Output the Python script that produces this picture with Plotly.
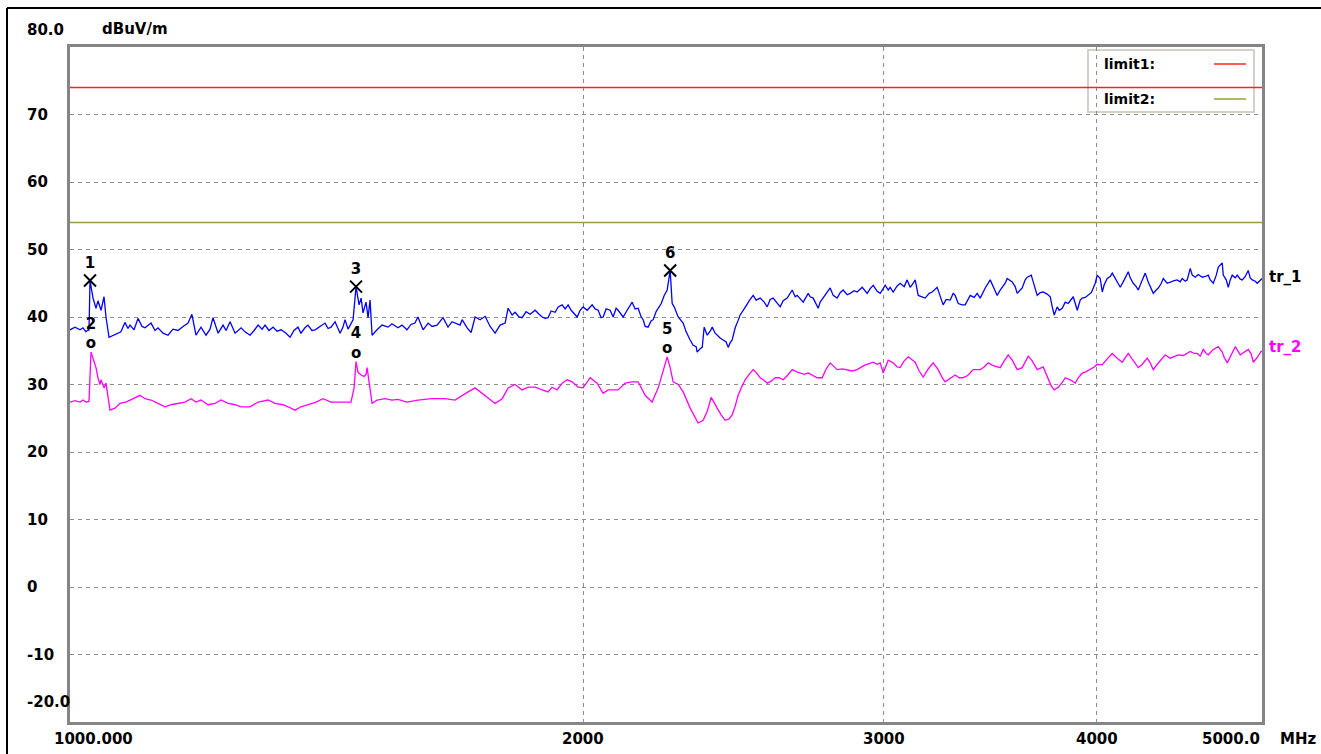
import math
import plotly.graph_objects as go

# ---------------- data ----------------
tr1_freq = [1000.0, 1006.8, 1013.6, 1017.7, 1021.8, 1024.6, 1026.0, 1027.4, 1031.6, 1035.7,
            1038.5, 1042.8, 1047.0, 1049.8, 1054.1, 1059.8, 1065.5, 1071.2, 1077.0, 1081.4,
            1084.4, 1090.3, 1096.2, 1102.1, 1106.6, 1115.6, 1121.7, 1126.2, 1133.8, 1141.5,
            1149.2, 1157.0, 1164.9, 1172.8, 1178.9, 1185.4, 1193.5, 1201.6, 1208.1, 1213.0,
            1221.4, 1229.6, 1234.5, 1241.3, 1249.7, 1259.9, 1266.6, 1275.2, 1282.2, 1289.1,
            1296.1, 1301.3, 1308.3, 1315.4, 1322.5, 1329.8, 1338.7, 1346.0, 1353.1, 1360.4,
            1365.9, 1373.3, 1378.9, 1386.3, 1392.2, 1401.6, 1411.1, 1416.9, 1422.6, 1430.3,
            1436.1, 1440.0, 1445.7, 1449.7, 1455.6, 1459.5, 1465.5, 1471.4, 1477.4, 1481.5,
            1485.4, 1491.4, 1495.5, 1499.5, 1503.6, 1513.7, 1524.0, 1536.4, 1544.5, 1557.1,
            1565.6, 1576.1, 1584.7, 1593.2, 1599.7, 1610.8, 1621.8, 1630.5, 1641.5, 1654.8,
            1665.9, 1675.0, 1681.8, 1693.3, 1698.0, 1709.5, 1718.7, 1728.0, 1739.7, 1751.5,
            1763.4, 1775.3, 1787.3, 1799.5, 1806.8, 1816.6, 1823.9, 1833.8, 1841.3, 1851.2,
            1861.3, 1873.9, 1884.0, 1891.8, 1899.3, 1907.0, 1914.7, 1925.2, 1933.1, 1943.5,
            1951.3, 1959.3, 1967.3, 1975.2, 1983.3, 1991.3, 1999.4, 2010.2, 2023.9, 2032.0,
            2040.2, 2048.5, 2054.2, 2062.5, 2073.6, 2082.0, 2090.5, 2096.2, 2110.3, 2121.8,
            2136.1, 2144.9, 2153.5, 2162.3, 2168.2, 2174.0, 2182.7, 2191.6, 2197.6, 2206.5,
            2212.6, 2221.6, 2230.7, 2239.6, 2248.7, 2254.8, 2260.9, 2273.2, 2288.5, 2297.7,
            2310.2, 2319.6, 2329.0, 2332.1, 2341.6, 2348.1, 2354.4, 2363.9, 2373.5, 2380.0,
            2389.6, 2396.0, 2405.7, 2415.5, 2425.2, 2431.9, 2438.4, 2445.0, 2455.0, 2464.9,
            2471.5, 2484.9, 2494.9, 2505.1, 2515.4, 2525.5, 2539.2, 2553.2, 2563.4, 2573.8,
            2584.2, 2598.3, 2608.8, 2619.4, 2633.5, 2651.5, 2662.2, 2669.3, 2680.2, 2691.2,
            2709.4, 2716.6, 2727.7, 2746.2, 2753.5, 2764.7, 2775.8, 2791.0, 2802.3, 2817.4,
            2828.9, 2840.2, 2855.7, 2867.3, 2882.9, 2894.5, 2914.3, 2926.0, 2934.0, 2945.9,
            2957.9, 2973.9, 2986.0, 2998.0, 3006.3, 3018.4, 3026.5, 3038.7, 3055.2, 3067.6,
            3084.4, 3096.7, 3109.4, 3122.1, 3130.4, 3143.3, 3160.1, 3173.0, 3190.1, 3203.0,
            3224.7, 3237.9, 3250.9, 3264.2, 3281.9, 3295.3, 3304.2, 3317.7, 3335.7, 3349.0,
            3362.7, 3371.8, 3390.0, 3403.8, 3417.7, 3431.5, 3440.9, 3464.1, 3478.0, 3496.9,
            3511.2, 3520.8, 3535.0, 3544.4, 3568.7, 3583.0, 3592.7, 3607.4, 3617.1, 3631.9,
            3641.7, 3661.5, 3676.3, 3691.1, 3706.1, 3721.0, 3741.2, 3756.5, 3766.8, 3776.9,
            3792.1, 3802.5, 3818.1, 3833.4, 3849.0, 3864.6, 3875.1, 3885.6, 3896.1, 3911.9,
            3922.3, 3938.4, 3954.3, 3970.5, 3981.4, 3991.9, 4002.5, 4018.9, 4030.0, 4040.8,
            4057.0, 4073.6, 4084.8, 4101.2, 4117.9, 4129.0, 4151.3, 4174.0, 4185.2, 4202.1,
            4219.0, 4230.6, 4253.7, 4270.8, 4288.0, 4299.6, 4317.3, 4334.6, 4346.6, 4364.4,
            4375.9, 4399.4, 4417.4, 4441.3, 4459.4, 4477.5, 4489.4, 4507.8, 4519.9, 4538.3,
            4550.8, 4569.1, 4587.4, 4612.6, 4631.2, 4650.2, 4662.5, 4681.5, 4700.6, 4713.4,
            4738.7, 4745.1, 4764.2, 4777.4, 4790.2, 4802.9, 4822.8, 4835.6, 4855.2, 4868.6,
            4888.2, 4907.8, 4921.2, 4934.8, 4954.7, 4967.8, 4981.6, 5000.0]
tr1_level = [38.1, 38.5, 38.1, 38.4, 37.8, 38.1, 38.0, 45.4, 42.8, 41.3,
             42.4, 41.0, 43.0, 40.0, 37.0, 37.3, 37.6, 37.8, 39.2, 38.3,
             38.8, 38.1, 39.8, 38.6, 38.4, 39.1, 38.0, 38.4, 37.6, 37.3,
             38.2, 38.0, 38.6, 39.1, 40.4, 37.3, 38.5, 37.3, 38.2, 39.9,
             37.6, 38.8, 38.0, 39.3, 37.6, 38.4, 37.8, 37.3, 38.0, 38.8,
             38.2, 38.8, 38.0, 38.5, 37.9, 38.1, 37.6, 37.0, 38.0, 38.5,
             37.6, 38.4, 38.8, 38.0, 38.1, 38.6, 39.1, 38.3, 38.5, 39.3,
             38.2, 37.6, 38.5, 39.6, 38.2, 38.8, 39.6, 44.5, 41.8, 42.8,
             40.6, 42.2, 39.9, 42.5, 37.3, 38.1, 38.8, 38.5, 39.0, 38.4,
             38.8, 38.1, 38.9, 39.1, 40.0, 38.1, 39.1, 38.6, 38.8, 39.9,
             38.5, 39.3, 39.1, 38.8, 39.6, 38.4, 37.7, 40.0, 39.6, 40.1,
             38.6, 37.6, 38.8, 39.1, 41.3, 40.3, 40.7, 40.0, 39.9, 40.8,
             40.4, 41.0, 40.4, 40.0, 39.8, 39.9, 40.9, 40.7, 41.5, 41.8,
             41.2, 41.8, 41.0, 40.5, 40.0, 41.0, 41.5, 41.0, 41.8, 41.2,
             41.0, 39.9, 40.0, 41.2, 41.0, 40.0, 41.3, 41.0, 40.0, 41.0,
             42.2, 41.2, 41.3, 40.0, 39.6, 38.6, 38.5, 39.4, 39.6, 40.8,
             41.3, 42.0, 43.2, 44.0, 46.9, 42.0, 41.5, 40.0, 39.1, 37.8,
             36.6, 35.8, 35.6, 34.8, 35.3, 35.5, 38.5, 37.3, 37.9, 38.5,
             37.6, 37.3, 36.9, 36.6, 36.3, 35.5, 36.2, 36.6, 38.4, 39.5,
             40.3, 41.2, 42.0, 42.6, 43.2, 42.5, 42.8, 42.2, 41.5, 42.6,
             42.8, 42.0, 41.5, 42.4, 42.8, 44.0, 43.0, 43.2, 42.7, 42.2,
             43.5, 43.0, 42.8, 41.3, 42.2, 42.8, 43.5, 44.3, 43.2, 42.8,
             43.6, 44.0, 43.3, 43.5, 43.9, 43.7, 44.4, 43.8, 43.5, 44.2,
             44.7, 43.8, 43.5, 44.2, 44.7, 44.0, 44.4, 43.7, 44.6, 45.0,
             44.5, 45.5, 44.4, 45.0, 45.5, 43.2, 43.0, 42.8, 43.5, 43.7,
             44.4, 43.0, 41.8, 42.6, 42.5, 43.5, 43.2, 42.0, 41.8, 41.8,
             42.8, 43.2, 42.9, 43.5, 42.8, 43.8, 44.3, 45.5, 44.4, 43.2,
             44.0, 44.4, 45.0, 45.7, 45.2, 44.5, 43.5, 44.0, 44.3, 45.5,
             45.9, 46.2, 44.5, 43.2, 43.6, 43.7, 43.4, 43.0, 41.5, 40.3,
             41.5, 41.0, 41.3, 42.2, 42.0, 42.5, 43.0, 42.0, 41.0, 42.5,
             42.8, 42.9, 43.2, 43.6, 44.3, 45.0, 46.2, 45.7, 43.7, 44.8,
             45.7, 46.0, 46.5, 45.7, 45.0, 44.4, 45.5, 46.7, 45.8, 45.0,
             44.5, 44.0, 45.5, 46.5, 45.2, 44.5, 43.5, 44.0, 44.3, 45.0,
             45.7, 45.0, 45.2, 45.4, 45.5, 45.2, 45.7, 45.3, 45.5, 47.2,
             46.2, 45.9, 46.3, 45.9, 46.0, 46.2, 45.5, 45.0, 46.2, 47.4,
             48.0, 46.2, 45.5, 44.4, 45.5, 46.2, 45.8, 46.2, 45.6, 45.5,
             46.0, 46.9, 45.8, 45.5, 45.3, 45.0, 45.3, 45.7]

tr2_freq = [1000.0, 1006.8, 1013.6, 1017.7, 1021.8, 1026.0, 1028.8, 1031.6, 1035.7, 1038.5,
            1041.3, 1042.8, 1047.0, 1049.8, 1052.6, 1055.5, 1062.6, 1069.8, 1078.5, 1088.9,
            1099.1, 1106.6, 1115.6, 1126.2, 1136.9, 1146.1, 1157.0, 1168.0, 1177.6, 1185.4,
            1193.5, 1204.9, 1216.3, 1226.3, 1237.9, 1249.7, 1259.9, 1275.2, 1289.1, 1306.6,
            1319.0, 1333.3, 1342.3, 1355.1, 1365.9, 1378.9, 1394.1, 1407.3, 1422.6, 1442.0,
            1461.4, 1467.5, 1471.4, 1475.4, 1481.5, 1487.4, 1491.4, 1493.5, 1497.5, 1503.6,
            1513.7, 1530.2, 1544.5, 1557.1, 1576.1, 1599.7, 1630.5, 1659.4, 1681.8, 1698.0,
            1711.8, 1728.0, 1744.4, 1758.6, 1775.3, 1792.3, 1806.8, 1823.9, 1841.3, 1856.3,
            1873.9, 1891.8, 1907.0, 1917.3, 1930.3, 1943.5, 1956.7, 1969.9, 1986.0, 1999.4,
            2018.4, 2037.5, 2054.2, 2068.1, 2096.2, 2116.0, 2136.1, 2153.5, 2174.0, 2194.5,
            2212.6, 2224.5, 2233.5, 2239.6, 2248.7, 2257.8, 2273.2, 2288.5, 2310.2, 2322.7,
            2335.1, 2351.2, 2363.9, 2376.9, 2386.5, 2396.0, 2408.9, 2422.0, 2435.1, 2445.0,
            2455.0, 2464.9, 2478.3, 2488.3, 2501.7, 2515.4, 2525.5, 2539.2, 2553.2, 2563.4,
            2577.3, 2591.3, 2605.2, 2619.4, 2633.5, 2651.5, 2665.7, 2680.2, 2694.8, 2709.4,
            2724.1, 2742.4, 2760.9, 2775.8, 2791.0, 2806.1, 2817.4, 2836.6, 2855.7, 2875.2,
            2894.5, 2910.5, 2926.0, 2942.0, 2957.9, 2973.9, 2986.0, 2998.0, 3010.1, 3018.4,
            3038.7, 3055.2, 3067.6, 3084.4, 3101.2, 3113.8, 3130.4, 3147.4, 3164.4, 3186.0,
            3207.4, 3229.1, 3246.8, 3259.8, 3277.3, 3290.6, 3304.2, 3322.1, 3335.7, 3353.6,
            3362.7, 3385.5, 3417.7, 3436.2, 3454.7, 3478.0, 3496.9, 3511.2, 3530.3, 3549.5,
            3568.7, 3592.7, 3617.1, 3631.9, 3646.7, 3666.2, 3691.1, 3721.0, 3745.9, 3761.4,
            3776.9, 3797.5, 3818.1, 3833.4, 3859.4, 3885.6, 3901.5, 3922.3, 3943.5, 3965.0,
            3986.4, 4002.5, 4030.0, 4057.0, 4084.8, 4112.2, 4140.2, 4174.0, 4202.1, 4230.6,
            4253.7, 4282.2, 4299.6, 4317.3, 4340.4, 4364.4, 4387.6, 4417.4, 4441.3, 4465.5,
            4495.6, 4519.9, 4538.3, 4562.7, 4581.3, 4599.8, 4618.9, 4637.4, 4650.2, 4681.5,
            4713.4, 4738.7, 4751.5, 4770.8, 4796.8, 4822.8, 4855.2, 4881.4, 4907.8, 4927.7,
            4941.4, 4967.8, 4993.3, 5000.0]
tr2_level = [27.4, 27.6, 27.4, 27.7, 27.4, 27.5, 34.8, 33.9, 32.5, 31.0,
             30.0, 30.7, 29.5, 30.2, 28.5, 26.2, 26.5, 27.2, 27.4, 27.9,
             28.4, 27.9, 27.7, 27.2, 26.7, 27.0, 27.2, 27.4, 27.9, 27.4,
             27.7, 27.0, 27.2, 27.7, 27.2, 27.0, 26.7, 26.7, 27.4, 27.7,
             27.2, 27.0, 26.7, 26.2, 26.7, 27.0, 27.4, 27.9, 27.4, 27.4,
             27.4, 29.5, 33.4, 31.8, 31.4, 31.2, 31.5, 32.5, 30.2, 27.2,
             27.7, 27.9, 27.7, 27.8, 27.4, 27.7, 27.9, 27.9, 27.7, 28.4,
             28.9, 29.5, 28.7, 27.9, 27.2, 27.9, 29.5, 30.0, 29.2, 29.6,
             29.6, 29.2, 28.9, 29.6, 29.2, 30.2, 30.7, 30.4, 29.6, 29.5,
             31.0, 30.2, 28.7, 29.2, 29.2, 30.2, 30.4, 30.4, 28.4, 27.4,
             29.5, 31.5, 33.3, 34.1, 32.5, 30.4, 30.0, 28.9, 26.5, 25.3,
             24.3, 24.7, 26.0, 28.1, 27.2, 26.5, 25.5, 24.7, 24.9, 25.5,
             26.8, 28.4, 29.8, 30.7, 31.5, 32.2, 31.8, 31.0, 30.6, 30.2,
             30.5, 31.0, 31.0, 30.7, 31.3, 32.2, 31.9, 31.7, 31.5, 31.7,
             31.4, 31.0, 31.0, 32.3, 33.2, 32.6, 32.2, 32.3, 32.2, 32.0,
             32.2, 32.6, 32.9, 33.1, 33.3, 33.0, 33.2, 31.7, 33.0, 33.6,
             33.2, 32.6, 32.5, 33.5, 34.1, 33.8, 33.3, 32.0, 31.1, 32.3,
             33.2, 32.2, 31.0, 30.4, 30.8, 31.1, 31.4, 31.0, 31.0, 31.2,
             31.4, 32.2, 32.2, 32.6, 33.2, 32.8, 32.6, 32.5, 33.5, 34.4,
             33.6, 32.2, 32.5, 33.3, 34.2, 33.5, 32.2, 32.6, 31.0, 29.8,
             29.2, 29.6, 30.3, 31.0, 30.7, 30.2, 31.0, 31.7, 31.9, 32.2,
             32.6, 33.0, 32.9, 33.8, 34.6, 33.9, 33.3, 34.6, 33.5, 32.5,
             33.0, 33.9, 33.2, 32.2, 33.0, 33.8, 34.4, 33.9, 34.2, 34.4,
             34.3, 34.6, 34.9, 34.6, 34.6, 34.2, 35.2, 34.6, 34.4, 35.2,
             35.6, 34.8, 34.0, 33.2, 34.5, 35.6, 34.4, 34.8, 35.2, 34.5,
             33.3, 34.0, 34.9, 34.9]

limit_names = ["limit1", "limit2"]
limit_levels = [74.0, 54.0]
limit_span = [1000.0, 5000.0]

peak_labels = ["1", "3", "6"]
peak_freq = [1027.4, 1471.4, 2248.7]
peak_level = [45.4, 44.5, 46.9]

avg_labels = ["2", "4", "5"]
avg_freq = [1028.8, 1471.4, 2239.6]
avg_level = [34.8, 33.4, 34.1]

x_tick_vals = [1000, 2000, 3000, 4000, 5000]
x_tick_text = ["1000.000", "2000", "3000", "4000", "5000.0"]
y_tick_vals = [80, 70, 60, 50, 40, 30, 20, 10, 0, -10, -20]
y_tick_text = ["80.0", "70", "60", "50", "40", "30", "20", "10", "0", "-10", "-20.0"]

# ---------------- styles ----------------
W, H = 1321, 754
L, R, T, B = 70, 59, 47, 32
PW, PH = W - L - R, H - T - B
FONT = "DejaVu Sans"
FS = 15
LIMIT_COLORS = ["#ff2020", "#9c9c3a"]
TR1_COLOR = "#0000ff"
TR2_COLOR = "#ff00ff"
GRID = "#8c8c8c"
FRAME = "#858585"


def px_x(p):
    return (p - L) / PW


def px_y(p):
    return (H - B - p) / PH


def bold(size, color="black"):
    return dict(family=FONT, size=size, color=color, weight="bold")


fig = go.Figure()

for name, lvl, col in zip(limit_names, limit_levels, LIMIT_COLORS):
    fig.add_trace(go.Scatter(x=limit_span, y=[lvl, lvl], mode="lines",
                             line=dict(color=col, width=1.5), name=name,
                             hoverinfo="skip"))

fig.add_trace(go.Scatter(x=tr1_freq, y=tr1_level, mode="lines",
                         line=dict(color=TR1_COLOR, width=1.3), name="tr_1"))
fig.add_trace(go.Scatter(x=tr2_freq, y=tr2_level, mode="lines",
                         line=dict(color=TR2_COLOR, width=1.3), name="tr_2"))

fig.add_trace(go.Scatter(x=peak_freq, y=peak_level, mode="markers+text",
                         text=peak_labels, textposition="top center",
                         textfont=bold(FS),
                         marker=dict(symbol="x-thin-open", size=12, color="black",
                                     line=dict(color="black", width=2)),
                         name="peaks"))
fig.add_trace(go.Scatter(x=avg_freq, y=avg_level, mode="text",
                         text=[f"{t}<br>o" for t in avg_labels],
                         textposition="top center",
                         textfont=bold(FS), name="avg"))

annotations = []
# y tick labels
for v, t in zip(y_tick_vals, y_tick_text):
    shift = 0
    if v == 80:
        shift = 17
    elif v == -20:
        shift = 20
    annotations.append(dict(xref="paper", yref="y", x=px_x(25), y=v, text=t,
                            xanchor="left", yanchor="middle", yshift=shift,
                            showarrow=False, font=bold(FS)))
annotations.append(dict(xref="paper", yref="paper", x=px_x(100), y=1, yshift=18,
                        text="dBuV/m", xanchor="left", yanchor="middle",
                        showarrow=False, font=bold(FS)))
# x tick labels
for v, t in zip(x_tick_vals, x_tick_text):
    anchor, xs = "center", 0
    if v == x_tick_vals[0]:
        anchor, xs = "left", -18
    elif v == x_tick_vals[-1]:
        anchor, xs = "right", 0
    annotations.append(dict(xref="x", yref="paper", x=math.log10(v), y=px_y(739),
                            text=t, xanchor=anchor, xshift=xs, yanchor="middle",
                            showarrow=False, font=bold(FS)))
annotations.append(dict(xref="paper", yref="paper", x=px_x(1278), y=px_y(739),
                        text="MHz", xanchor="left", yanchor="middle",
                        showarrow=False, font=bold(FS)))
# trace labels
annotations.append(dict(xref="x", yref="y", x=math.log10(tr1_freq[-1]), y=tr1_level[-1],
                        text="tr_1", xanchor="left", xshift=5, yshift=2, yanchor="middle",
                        showarrow=False, font=bold(FS)))
annotations.append(dict(xref="x", yref="y", x=math.log10(tr2_freq[-1]), y=tr2_level[-1],
                        text="tr_2", xanchor="left", xshift=5, yshift=4, yanchor="middle",
                        showarrow=False, font=bold(FS, TR2_COLOR)))
# legend texts
for i, name in enumerate(limit_names):
    yy = [64, 99][i]
    annotations.append(dict(xref="paper", yref="paper", x=px_x(1102), y=px_y(yy),
                            text=name + ":", xanchor="left", yanchor="middle",
                            showarrow=False, font=bold(14)))

shapes = [
    # legend box
    dict(type="rect", xref="paper", yref="paper", x0=px_x(1088), x1=px_x(1254),
         y0=px_y(112), y1=px_y(50), line=dict(color="#d4d0c8", width=2),
         fillcolor="white", layer="between"),
    # outer frame
    dict(type="line", xref="paper", yref="paper", x0=px_x(7), x1=px_x(1321),
         y0=px_y(8), y1=px_y(8), line=dict(color="black", width=2)),
    dict(type="line", xref="paper", yref="paper", x0=px_x(7), x1=px_x(7),
         y0=px_y(8), y1=px_y(754), line=dict(color="black", width=2)),
]
for i, col in enumerate(LIMIT_COLORS):
    yy = [64, 99][i]
    shapes.append(dict(type="line", xref="paper", yref="paper", x0=px_x(1214),
                       x1=px_x(1246), y0=px_y(yy), y1=px_y(yy),
                       line=dict(color=col, width=1.5)))

fig.update_layout(
    width=W, height=H, margin=dict(l=L, r=R, t=T, b=B, pad=0),
    paper_bgcolor="white", plot_bgcolor="white", showlegend=False,
    annotations=annotations, shapes=shapes,
    xaxis=dict(type="log", range=[math.log10(1000), math.log10(5000)],
               tickvals=x_tick_vals, showticklabels=False, ticks="",
               showgrid=True, gridcolor=GRID, gridwidth=1.2, griddash="4px,4px",
               showline=True, linecolor=FRAME, linewidth=3, mirror=True,
               zeroline=False),
    yaxis=dict(range=[-20, 80], tickvals=y_tick_vals, showticklabels=False,
               ticks="", showgrid=True, gridcolor=GRID, gridwidth=1.2,
               griddash="4px,4px", showline=True, linecolor=FRAME, linewidth=3,
               mirror=True, zeroline=False),
)

fig.write_html("out.html", config={"displayModeBar": False},
               post_script="document.body.style.margin='0';document.body.style.overflow='hidden';")
